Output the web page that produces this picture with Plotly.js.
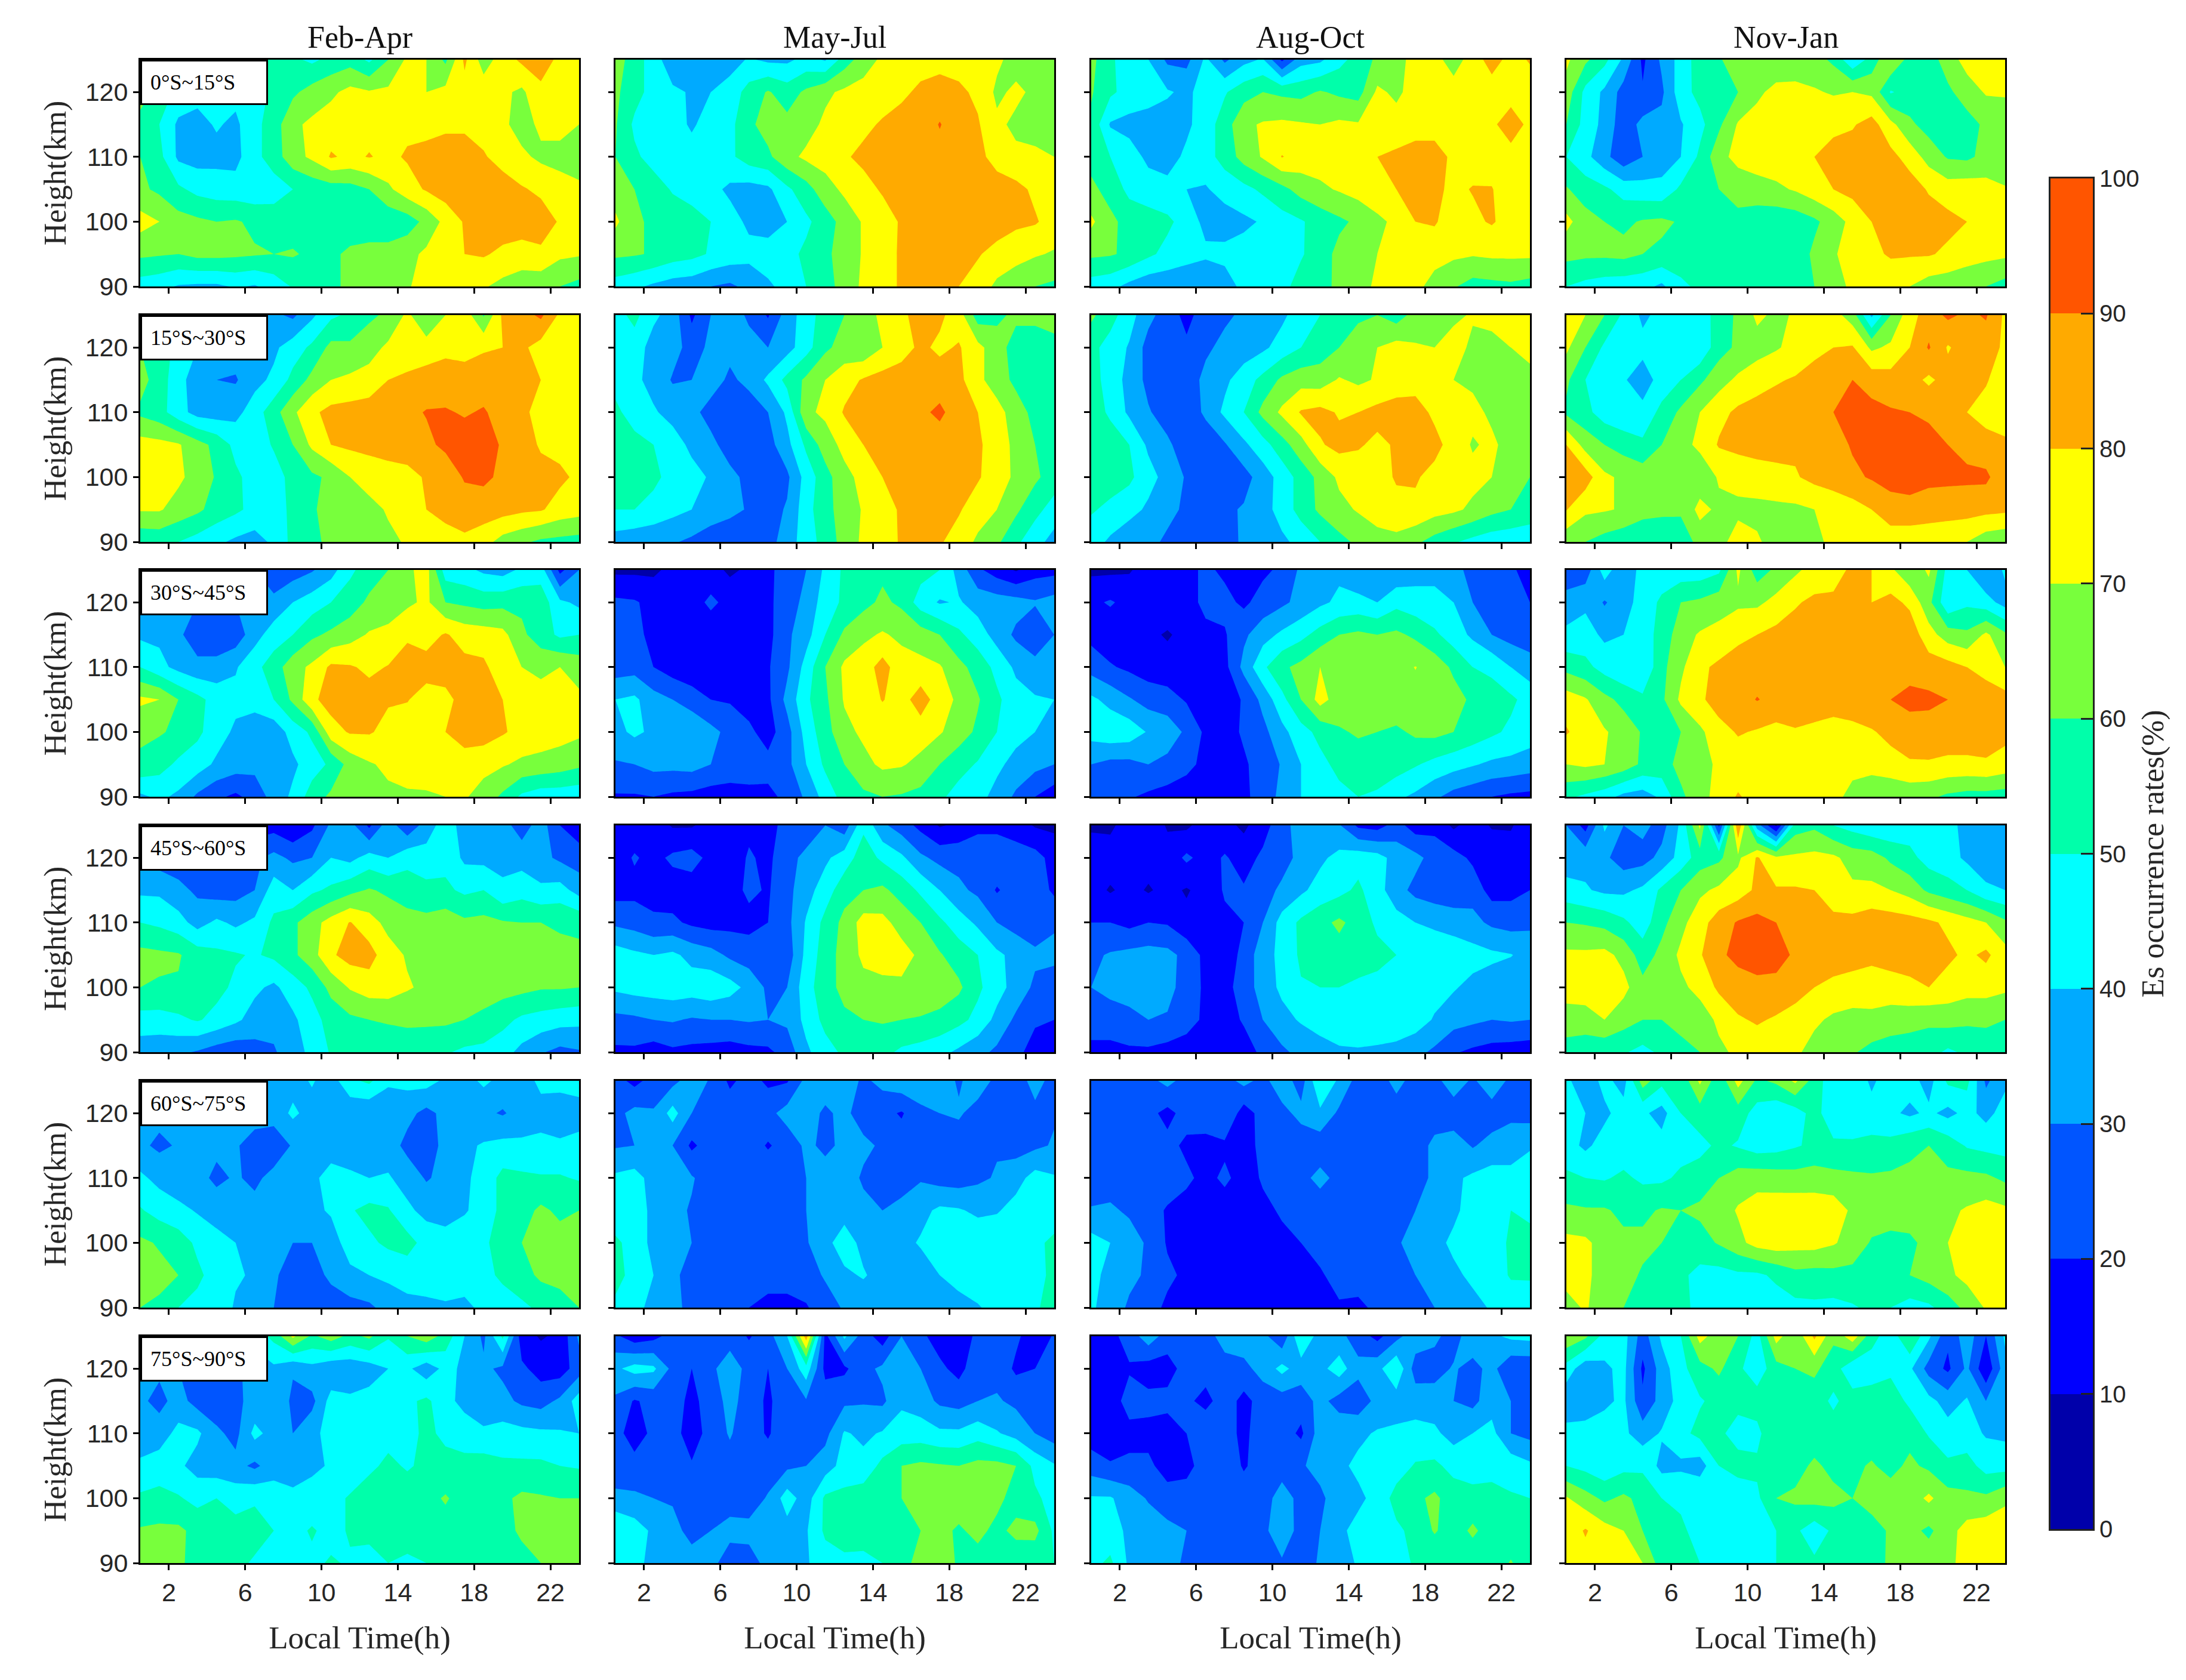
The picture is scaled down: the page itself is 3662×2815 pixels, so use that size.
<!DOCTYPE html>
<html>
<head>
<meta charset="utf-8">
<script src="https://cdn.plot.ly/plotly-3.0.1.min.js"></script>
<style>html,body{margin:0;padding:0;background:#fff}</style>
</head>
<body>
<div id="chart" style="width:3662px;height:2815px"></div>
<script>
const hours=[0.5,1.5,2.5,3.5,4.5,5.5,6.5,7.5,8.5,9.5,10.5,11.5,12.5,13.5,14.5,15.5,16.5,17.5,18.5,19.5,20.5,21.5,22.5,23.5];
const heightsTopDown=[125,120,115,110,105,100,95,90];
const seasons=["Feb-Apr","May-Jul","Aug-Oct","Nov-Jan"];
const latBands=["0°S~15°S","15°S~30°S","30°S~45°S","45°S~60°S","60°S~75°S","75°S~90°S"];
const bandColors=["#0000AA","#0000FF","#0055FF","#00AAFF","#00FFFF","#00FFAA","#78FF3C","#FFFF00","#FFAA00","#FF5500"];
const barLevels=[5,15,25,35,45,55,65,75,85,95];
const xTicks=[2,6,10,14,18,22];
const yTicks=[90,100,110,120];
const barTicks=[0,10,20,30,40,50,60,70,80,90,100];

const feb0=[
[60,52,45,42,42,45,50,54,52,48,53,56,48,60,72,70,58,82,65,75,82,84,78,75],
[65,56,47,43,42,43,46,52,58,64,68,73,71,72,74,70,73,76,76,72,68,78,80,76],
[56,50,38,37,41,38,47,55,68,72,75,76,77,77,78,78,78,78,76,72,66,72,74,70],
[60,53,38,36,37,37,47,55,66,72,81,78,80.5,78,81,82,85,85,81,76,72,68,66,65],
[62,58,52,47,45,44,43,45,50,53,55,56,60,68,76,81,85,87,87,85,81,78,75,72],
[74,70,64,62,60,61,58,56,55,54,54,54,53,53,55,63,73,81,84,85,85,85,79,75],
[62,61,60,63,63,62,61,60,61,58,58,62,64,64,67,72,75,80,81,78,76,78,72,71],
[45,43,39,38,38,41,39,44,51,56,58,62,64,67,69,74,76,74,71,67,64,63,60,57]];
const may0=[
[65,55,45,33,38,37,36,41,38,38,43,39,55,65,72,75,76,76,76,74,72,66,64,63],
[62,54,46,42,39,40,44,54,61,55,62,68,72,74,76,78,82,85,82,78,68,72,68,65],
[61,48,44,43,39,43,47,58,64,63,66,72,74,78,81,84,85,90.5,85,81,72,68,66,65],
[60,52,46,44,43,43,48,55,58,67,72,74,79,82,85,87,87,87,85,83,76,72,72,70],
[65,60,55,49,46,43,38,36,38,48,56,66,72,77,81,85,87,88,88,86,85,83,78,75],
[72,62,58,56,54,50,44,38,34,40,48,55,64,71,76,81,85,87,88,88,86,82,81,76],
[62,61,59,55,53,49,46,43,46,47,52,58,64,71,77,81,84,85,84,81,76,74,71,69],
[45,42,38,35,34,30,28,33,38,44,50,56,64,72,77,81,83,84,80,75,68,63,60,58]];
const aug0=[
[63,52,44,40,28,27,42,28,37,41,18,36,38,47,54,62,68,72,73,66,74,85,76,81],
[61,52,46,44,41,38,44,49,56,60,58,57,61,58,56,72,68,74,76,74,72,74,73,74],
[58,39,37,36,36,38,45,55,68,71,72,71,70,72,71,71,74,76,76,71,74,77,88,76],
[57,50,44,38,36,42,46,54,64,71,80.5,76,75,76,77,80,82,84,84,78,76,75,74,72],
[62,57,47,44,43,40,39,44,47,52,57,64,68,71,74,76,80,84,82,78,80.5,80.5,74,72],
[72,62,57,55,52,46,37,35,38,41,46,49,54,58,62,68,72,80,81,75,78,81,76,74],
[62,61,58,52,47,44,42,43,44,45,46,49,55,63,67,70,74,75,74,72,71,72,72,72],
[45,43,37,33,33,32,30,35,43,45,47,54,57,62,68,71,75,73,66,61,56,57,58,56]];
const nov0=[
[72,62,53,38,18,32,44,55,58,70,65,63,66,64,58,42,54,70,56,55,65,74,80,75],
[66,47,38,26,21,28,46,53,56,60,68,73,72,71,69,70,68,49,54,56,58,65,71,72],
[60,46,37,24,33,33,39,47,58,71,74,71,74,76,78,79,84,73,62,56,54,56,62,60],
[50,43,33,23,30,35,40,52,67,73,75,76,77,80,83,85,86,83,76,66,59,58,63,62],
[61,55,52,46,44,43,52,57,60,64,66,68,71,76,80,83,85,86,85,79,75,76,74,71],
[73,64,60,58,61,62,59,55,55,57,54,53,54,58,65,73,80,82,84,85,83,80,76,74],
[63,62,62,63,60,58,55,58,60,57,53,52,54,62,69,74,78,81,81,81,78,75,73,72],
[50,47,45,44,43,38,48,52,52,53,54,55,57,60,68,71,72,74,70,65,64,62,60,56]];

const feb15=[
[60,50,44,40,35,32,30,32,28,38,48,52,58,62,72,62,70,76,59,82,86,92,78,74],
[60,55,47,40,36,35,36,38,45,52,63,62,66,72,74,74,78,76,79,80,82,76,74,72],
[64,55,44,34,30,29,37,42,53,63,70,72,74,80,82,85,84,85,85,84,84,80,76,74],
[58,54,44,36,35,37,45,56,68,78,83,84,85,86,88,90.5,91,89,91,86,82,77,75,74],
[74,73,71,64,57,47,45,51,60,72,80,82,83,84,85,88,92,95,94,89,84,79,77,75],
[74,73,72,66,59,52,46,46,53,58,62,70,74,76,77,81,84,91,92,88,85,83,82,78],
[71,71,66,62,56,52,47,46,52,59,63,64,67,71,76,80,83,85,85,84,82,81,76,74],
[52,53,50,46,42,38,36,42,53,58,62,64,66,68,71,73,76,78,74,66,62,58,57,56]];
const may15=[
[46,53,42,36,18,30,36,28,19,35,45,55,60,66,72,78,84,82,75,55,58,62,64,64],
[47,45,36,34,26,32,33,34,30,36,46,58,64,62,70,76,82,78,81,73,64,56,52,57],
[47,42,37,29,30,35,28,33,42,53,62,70,76,81,84,85,85,85,83,72,66,57,52,58],
[52,46,41,37,33,26,22,24,30,42,68,72,81,83,85,87,88,92,85,80,73,66,56,52],
[54,53,50,44,38,33,25,20,26,37,52,65,73,80,83,85,85,85,84,82,74,68,60,53],
[53,53,52,47,43,39,33,27,22,28,44,56,67,73,80,83,84,85,84,81,75,68,62,55],
[50,50,47,43,40,36,33,29,26,31,46,57,64,71,77,81,83,83,81,75,70,62,53,46],
[35,33,32,31,28,24,22,22,26,35,45,54,64,72,76,81,84,81,76,68,62,52,44,36]];
const aug15=[
[62,54,44,33,25,17,25,28,32,35,38,45,50,55,58,60,55,64,66,68,71,74,74,74],
[53,46,39,26,24,22,28,33,35,38,44,50,55,60,66,70,74,71,70,74,68,66,70,72],
[55,45,37,27,24,24,33,38,45,53,62,66,65,71,68,71,74,76,78,70,68,65,64,68],
[56,48,38,31,25,20,33,42,50,63,72,81,83,79,80,83,85,84,78,76,73,68,64,60],
[57,56,50,38,32,24,20,29,38,46,56,66,79,83,81,78,81,84,83,76,69,72,66,62],
[56,54,52,44,36,29,22,20,26,35,44,54,63,72,75,76,81,81,77,76,73,70,64,60],
[51,48,44,38,33,28,28,28,31,36,44,54,62,67,71,76,77,78,74,72,68,63,60,56],
[45,38,32,33,28,22,20,25,32,35,38,43,50,57,62,65,67,62,56,51,47,44,43,43]];
const nov15=[
[72,70,60,48,38,43,46,45,54,62,72,68,71,74,74,65,38,60,76,85,92,88,91,78],
[72,60,48,44,43,44,42,42,56,62,66,69,73,78,80,81,68,72,80,91,79,85,85,78],
[62,50,44,41,35,44,50,58,66,72,76,79,81,83,85,90,86,84,84,78,84,84,81,74],
[58,53,45,42,43,53,62,70,77,82,84,85,85,87,90,92,93,91,90,89,84,80,76,74],
[80,66,60,56,52,60,67,72,81,83,85,85,82,85,86,91,93,94,94,92,90,87,84,82],
[88,85,72,68,66,65,63,64,71,73,74,76,79,83,86,88,91,95,95,92,92,92,92,83],
[80.5,72,71,69,64,63,62,73,68,68,68,68,68,70,72,76,80,84,86,86,85,84,83,82],
[63,60,56,53,51,50,53,64,67,74,71,67,67,68,72,74,74,76,74,72,71,70,64,62]];

const feb30=[
[35,35,34,34,33,33,30,22,25,29,36,48,55,60,68,74,45,43,38,36,42,45,17,30],
[37,35,31,30,28,30,35,33,40,45,50,55,62,64,68,72,60,58,56,57,58,56,42,38],
[38,38,32,24,22,24,36,45,50,58,62,66,71,73,79,76,81,76,75,73,62,55,48,50],
[50,43,37,33,34,39,47,55,66,72,82,81,78,80.5,83,84,85,83,82,74,70,67,70,66],
[72,70,60,53,46,43,44,50,62,78,84,84,84,81,80.5,76,77,84,85,80,76,75,74,72],
[62,61,58,52,45,38,34,34,44,52,76,81,81,77,75,77,80,86,85,81,77,75,74,72],
[58,54,48,45,38,35,33,33,38,45,52,64,69,72,73,74,74,74,73,71,68,67,65,62],
[38,42,38,28,22,18,24,34,42,55,62,64,66,68,69,69,70,71,66,58,48,44,44,43]];
const may30=[
[8,8,8,13,15,14,8,12,18,24,30,42,52,56,58,56,54,50,36,22,15,9,16,17],
[22,21,17,15,16,22,17,18,18,25,33,45,52,57,62,58,45,39,41,36,35,34,31,34],
[21,22,18,15,15,14,14,16,17,28,36,50,62,68,71,68,65,60,52,45,36,28,22,30],
[25,26,20,15,13,13,15,17,19,28,44,60,72,75,84,74,73,71,63,56,47,38,34,32],
[40,42,34,30,25,20,19,16,18,33,48,58,71,75,80.5,76,85,75,68,61,52,44,41,40],
[37,42,38,40,39,33,27,22,16,26,44,56,67,72,74,76,75,71,65,58,50,43,40,38],
[29,30,33,33,34,30,28,25,23,27,40,52,60,67,72,71,67,60,54,49,42,37,33,30],
[19,19,20,18,17,15,14,17,18,22,32,44,54,58,60,59,57,52,46,43,37,28,20,14]];
const aug30=[
[8,8,9,15,17,17,22,18,15,18,22,32,36,38,32,34,32,36,38,36,24,28,22,15],
[18,21,17,15,16,17,22,23,18,24,28,33,38,42,43,40,47,44,42,40,30,27,24,20],
[17,14,13,12,9,13,18,19,28,36,42,47,54,60,62,60,62,58,52,45,38,30,26,24],
[26,21,18,15,14,14,15,17,33,48,58,63,70,64,65,66,67,70.3,66,58,50,48,40,35],
[42,37,31,26,24,19,14,15,21,33,47,60,74,65,66,68,68,67,66,64,58,54,52,46],
[44,47,46,39,36,28,18,17,21,27,37,46,53,59,61,60,58,62,63,60,56,52,48,45],
[30,27,27,30,27,22,18,17,19,23,31,40,47,53,56,57,55,51,47,44,41,38,37,35],
[20,20,21,18,16,16,13,15,18,24,33,40,43,47,50,48,42,38,32,26,23,20,18,17]];
const nov30=[
[22,24,45,32,44,44,44,44,48,72,55,62,68,74,76,82,80,72,62,72,46,40,30,42],
[35,38,29,36,44,52,60,62,66,68,68,73,79,82,82,81,80,83,78,63,42,48,44,36],
[42,44,38,40,46,53,66,71,73,78,80,83,84,85,86,86,87,87,86,74,65,62,72,62],
[57,53,46,42,41,57,68,78,82,84,85,86,86,87,87,88,88,88,86,85,84,80,76,70],
[75,71,63,57,52,58,72,78,85,86,90.5,87,87,87,87,88,89,90,93,92,90,87,86,84],
[81,75,71,66,59,55,60,68,76,81,79,77,79,77,74,76,79,83,85,86,85,85,84,83],
[70,72,70,66,58,56,63,66,72,74,75,74,74,71,70,72,73,76,79,79,78,78,79,76],
[52,48,44,37,35,42,58,66,74,81,76,74,73,72,72,68,64,62,63,62,58,56,56,55]];

const feb45=[
[25,22,18,16,15,15,15,16,11,18,32,34,18,36,22,35,45,36,35,34,25,35,20,14],
[26,25,24,22,22,25,28,33,28,30,40,37,44,40,47,44,47,38,37,37,36,33,28,25],
[38,38,33,28,25,26,30,45,40,48,52,57,61,58,55,53,52,48,50,42,46,42,44,36],
[50,48,44,36,42,38,42,52,58,66,74,80.5,74,67,64,63,66,62,63,61,60,60,59,58],
[63,62,61,55,52,51,49,52,58,66,78.5,84,84,74,69,66,64,64,64,63,63,62,62,62],
[60,59,59,60,53,48,42,38,45,52,63,71,75,75,71,68,65,64,64,64,63,61,61,60],
[46,46,48,51,47,42,36,33,38,46,54,58,60,61,62,62,62,60,58,53,48,46,44,43],
[34,33,32,29,25,23,26,29,35,43,51,52,54,54,54,53,51,48,47,44,37,31,27,29]];
const may45=[
[14,14,15,9,9,14,15,18,16,24,23,30,24,48,32,25,17,9,12,17,17,15,9,8],
[15,21,17,22,24,17,15,21,18,26,33,38,45,55,48,42,32,27,27,28,28,25,24,16],
[16,17,16,15,15,16,16,22,19,27,36,45,56,60,62,56,48,40,32,28,19,25,26,18],
[28,26,22,22,18,16,17,17,20,27,41,53,63,74,73,66,60,52,45,38,30,26,24,29],
[45,42,40,42,37,34,28,25,22,24,43,55,64,72,75,74,68,61,55,50,42,37,32,32],
[42,44,45,46,45,47,44,37,28,30,46,56,63,67,67,68,68,66,62,52,44,36,28,26],
[27,28,30,31,29,30,30,31,30,32,43,53,58,60,61,60,59,57,53,47,37,28,21,20],
[18,18,15,18,17,16,15,17,18,24,38,46,52,55,53,48,46,43,38,33,28,22,17,16]];
const aug45=[
[8,8,15,16,9,8,15,13,8,16,26,35,38,31,18,16,24,15,17,8,15,9,9,16],
[17,15,16,14,14,22,16,21,16,22,26,33,38,43,46,44,36,33,26,24,18,17,15,13],
[14,9,13,9,13,9,14,21,21,26,32,38,44,47,52,44,34,27,25,24,26,16,17,20],
[20,20,17,20,19,13,13,18,20,30,44,52,57,62,56,48,44,40,37,35,33,28,26,28],
[28,31,33,34,33,27,17,16,22,37,42,52,56,56,55,53,50,47,50,47,44,42,40.5,36],
[30,33,33,34,33,26,18,17,24,35,42,49,50,50,48,47,44,43,44,41,37,35,33,32],
[25,25,28,30,29,24,18,16,21,30,37,41,44,48,46,47,48,45,39,34,32,30,31,30],
[17,17,18,18,16,15,14,14,16,22,28,33,36,38,39,38,36,33,28,21,18,16,15,14]];
const nov45=[
[30,16,42,30,33,26,42,72,18,88,35,8,55,58,50,46,42,42,45,50,43,37,34,36],
[34,37,32,25,26,33,44,55,58,68,81,72,72,73,72,66,65,58,53,46,44,38,34,32],
[44,41,38,38,42,52,60,68,72,75,82,81,81,80,76,72,72,70,66,58,54,50,42,40],
[60,59,57,52,45,57,67,76,85,91,93,90,85,84,82,83,86,85,84,82,78,74,70,62],
[72,72,73,67,55,63,72,79,88,93,95,95,88,85,84,83,82,83,84,84,82,78,82,74],
[74,75,74,73,63,62,68,73,82,85,87,86,84,80,78,77,76,77,78,80,76,74,74,72],
[66,66,70,64,60,60,62,65,72,79,81,79,76,72,68,66,67,64,64,62,64,62,62,60],
[55,53,52,51,47,52,58,60,68,72,75,74,72,66,64,61,57,56,54,54,48,52,54,52]];

const feb60=[
[38,37,37,37,37,38,42,37,36,41,35,48,52,42,43,44,38,36,42,37,36,42,44,44],
[32,33,33,33,34,34,34,34,42,36,33,32,31,32,33,27,33,33,32,29,34,37,33,36],
[32,28,31,31,32,31,26,24,31,33,34,34,35,35,27,25,33,38,41,43,42,42,42,43],
[42,37,33,33,28,31,28,33,34,37,45,42,40,41,36,29,33,38,44,53,52,51,51,49],
[51,46,43,39,35,30,33,35,36,38,41,49,53,51,42,37,36,39,44,53,56,62,58,60],
[62,59,55,48,44,40,35,33,30,30,36,44,48,52,54,46,44,46,48,55,60,63,64,63],
[65,63,60,52,46,41,39,31,27,26,32,38,40,42,44,44,44,44,47,52,56,62,63,63],
[60,58,50,47,45,39,35,30,28,26,25,26,28,34,37,38,39,38,42,45,48,52,56,60]];
const may60=[
[24,17,24,27,35,29,18,24,18,19,33,36,36,28,33,37,38,34,29,34,28,26,33,27],
[27,33,31,44,30,25,26,27,27,34,35,28,33,24,23,19,27,30,31,27,24,29,28,29],
[29,30,32,30,18,25,27,25,19,24,32,28,32,33,28,25,26,27,26,27,29,26,28,31],
[42,44,36,33,31,25,26,26,27,28,30,34,37,28,24,27,29,26,25,28,31,36,44,41],
[43,44,38,33,29,28,27,26,25,26,30,34,36,34,30,32,37,42,41,38,39,44,48,45],
[52,46,37,34,30,26,26,25,24,24,29,37,45,37,35,37,41,46,47,47,48,49,48,52],
[53,47,40,33,25,25,25,22,24,24,26,31,38,41,36,34,35,40,43,47,47,46,46,53],
[48,42,38,33,27,26,22,20,17,17,19,26,31,33,30,32,34,36,37,39,44,46,49,53]];
const aug60=[
[26,23,24,27,33,26,25,26,33,27,36,25,50,38,26,24,34,25,26,37,28,38,27,24],
[26,24,23,23,17,24,27,30,15,24,27,33,38,28,24,23,24,24,24,23,24,24,27,26],
[24,23,22,22,23,18,16,18,17,22,23,24,24,25,30,24,24,24,33,36,29,34,37,39],
[23,24,25,25,25,22,17,22,16,21,24,27,33,27,26,25,26,28,31,38,42,44,42,45],
[31,32,28,24,19,16,16,15,16,18,21,23,24,25,25,25,27,30,34,38,44,47,50,48],
[44,40,36,28,19,17,16,15,15,16,18,20,23,24,25,25,29,33,37,42,44,47,51,53],
[43,37,33,28,22,18,15,14,14,14,15,16,19,23,24,24,28,30,36,38,42,45,51,51],
[41,37,28,24,18,15,14,14,13,14,14,14,15,19,18,22,24,26,30,33,37,41,44,45]];
const nov60=[
[42,34,43,36,65,53,52,72,52,74,58,62,72,55,44,44,39,43,44,36,52,53,28,38],
[42,40,38,44,42,36,50,55,54,55,46,42,45,54,43,42,42,42,38,42,37,43,37,44],
[44,38,44,44,45,44,46,47,52,49,45,46,49,52,52,52,54,53,58,60,56,49,47,46],
[52,50,49,52,48,48,52,55,60,65,66,65,64,65,63,62,61,62,62,64,62,63,62,58],
[62,61,61,58,58,61,60,62,65,71,75,76,77,76,76,68,65,65,65,66,68,71,74,72],
[73,72,66,62,62,60,55,56,61,67,74,76,74,74,71,66,59,57,58,63,70,75,76,76],
[73,71,68,63,59,53,52,47,46,48,48,52,57,56,57,57,58,58,60,64,68,73,76,76],
[67,71,65,60,55,53,51,49,46,45,44,45,47,48,47,49,52,50,46,48,55,63,71,75]];

const feb75=[
[42,42,42,42,42,43,44,53,72,58,65,57,62,51,60,66,56,40,28,52,14,9,12,32],
[33,32,30,27,26,28,34,38,31,37,32,33,35,40,42,34,43,38,32,28,22,16,15,25],
[32,27,34,26,24,28,33,38,28,27,44,42,44,46,48,52,44,36,33,33,28,26,32,45],
[37,35,43,42,32,27,43,36,30,37,44,44,46,47,47,52,48,47,42,44,43,42,41,40],
[41,45,42,36,34,33,28,35,36,38,41,44,48,52,49,52,53,52,55,52,52,52,50,49],
[52,53,51,47,50,46,49,46,42,44,47,51,55,53,55,57,61,56,55,58,62,61,60,60],
[61,62,62,57,54,54,53,50,47,51,47,51,53,54,55,56,56,56,56,56,62,64,63,63],
[61,61,61,58,56,52,49,46,46,48,51,49,46,50,48,50,52,53,53,54,56,60,61,61]];
const may75=[
[22,14,17,24,24,24,26,19,26,40,85,17,42,25,15,30,22,16,15,22,28,22,14,21],
[38,44,42,27,20,28,35,27,20,30,46,17,18,27,32,34,30,22,17,26,27,18,20,24],
[28,19,23,25,17,25,33,26,18,27,29,26,28,29,28,38,35,28,26,30,31,28,26,25],
[23,16,22,24,15,24,31,24,19,26,29,27,41,38,41,45,45,42,42,46,41,36,30,25],
[23,23,24,25,21,24,26,25,25,28,30,35,44,43,53,60,62,61,60,63,63,60,47,41],
[33,32,30,29,30,28,26,25,31,45,35,52,53,56,58,60,65,68,64,61,62,57,52,46],
[50,45,38,33,27,30,33,33,34,36,39,52,54,55,56,59,60,62,59,62,58,62,63,48],
[44,41,39,38,34,33,25,26,33,37,39,45,48,47,50,58,62,64,59,57,56,55,53,50]];
const aug75=[
[17,17,24,36,25,23,25,35,36,33,22,50,35,33,25,17,27,36,32,26,36,38,42,43],
[19,17,19,15,16,24,24,25,27,34,43,35,37,45,33,37,49,25,26,31,27,33,22,22],
[17,15,24,23,23,22,17,25,17,24,25,25,33,26,24,33,35,36,35,30,27,36,30,27],
[15,14,17,17,15,20,28,25,17,27,25,18,35,37,38,41,42,43,42,36,40,43,30,27],
[25,21,22,22,16,18,23,26,19,24,27,29,33,38,42,43,45,51,52,47,46,48,46,42],
[41,41,35,29,24,23,25,26,25,27,33,28,28,35,38,43,54,58,62,55,53,52,51,50],
[45,44,38,36,33,30,26,27,26,28,35,27,30,38,43,46,48,53,61,55,62,55,52,52],
[47,52,38,34,32,29,28,26,25,25,29,26,31,36,41,44,47,51,52,53,53,53,61,52]];
const nov75=[
[68,62,46,44,25,42,50,74,64,60,46,74,62,82,62,76,54,44,60,42,22,36,20,42],
[46,33,38,43,18,35,47,56,62,52,44,56,60,62,55,42,44,48,42,26,18,32,12,36],
[32,34,38,42,22,34,44,49,53,53,55,54,56,55,48,55,56,55,48,43,36,41,30,37],
[44,44,45,42,35,41,47,53,52,46,47,60,55,54,55,55,55,54,57,49,44,44,39,38],
[50,47,43,47,48,37,38,35,50,54,52,55,56,62,57,58,61,57,62,58,52,54,46,46],
[71,64,58,62,57,50,49,50,46,43,48,60,62,64,63,60,63,65,65,72,64,62,62,68],
[74,81,74,70,60,52,51,48,45,44,44,50,52,44,52,58,57,61,63,58,66,74,76,76],
[72,76,75,73,70,55,52,50,45,46,46,50,54,52,51,52,55,62,64,66,68,73,77,76]];

const panels=[
 [feb0,may0,aug0,nov0],
 [feb15,may15,aug15,nov15],
 [feb30,may30,aug30,nov30],
 [feb45,may45,aug45,nov45],
 [feb60,may60,aug60,nov60],
 [feb75,may75,aug75,nov75]];

const colLeft=[235,1031,1828,2624], colW=735;
const rowTop=[100,528,955,1383,1811,2239], rowH=380;
const W=3662,H=2815;
const bar={l:3435,r:3506,t:299,b:2562};
const colorscale=bandColors.map((c,i)=>[i/(bandColors.length-1),c]);
const sans="Liberation Sans, Arial, sans-serif", serif="Liberation Serif, Times New Roman, serif";
const tickCol="#262626";

const heightsUp=heightsTopDown.slice().reverse();
const data=[], layout={width:W,height:H,margin:{l:0,r:0,t:0,b:0},paper_bgcolor:"#fff",plot_bgcolor:"#fff",showlegend:false,annotations:[]};
let n=0;
panels.forEach((row,r)=>row.forEach((z,c)=>{
  n++;
  const sx=n===1?"":String(n);
  data.push({type:"contour",x:hours,y:heightsUp,z:z.slice().reverse(),xaxis:"x"+sx,yaxis:"y"+sx,
    colorscale,zmin:5,zmax:95,showscale:false,hoverinfo:"skip",
    contours:{start:10,end:90,size:10,coloring:"fill",showlines:false},line:{width:0,smoothing:0}});
  layout["xaxis"+sx]={domain:[colLeft[c]/W,(colLeft[c]+colW)/W],anchor:"y"+sx,range:[0.5,23.5],
    tickmode:"array",tickvals:xTicks,ticktext:xTicks.map(String),ticks:"outside",ticklen:9,tickwidth:2.5,tickcolor:"#000",
    showticklabels:r===5,tickfont:{family:sans,size:43,color:tickCol},showgrid:false,zeroline:false,
    showline:true,mirror:true,linecolor:"#000",linewidth:3,
    title:r===5?{text:"Local Time(h)",font:{family:serif,size:53,color:tickCol},standoff:35}:undefined};
  layout["yaxis"+sx]={domain:[1-(rowTop[r]+rowH)/H,1-rowTop[r]/H],anchor:"x"+sx,range:[90,125],
    tickmode:"array",tickvals:yTicks,ticktext:yTicks.map(String),ticks:"outside",ticklen:9,tickwidth:2.5,tickcolor:"#000",
    showticklabels:c===0,tickfont:{family:sans,size:43,color:tickCol},showgrid:false,zeroline:false,
    showline:true,mirror:true,linecolor:"#000",linewidth:3,
    title:c===0?{text:"Height(km)",font:{family:serif,size:52,color:tickCol},standoff:16}:undefined};
  if(c===0) layout.annotations.push({xref:"x"+sx+" domain",yref:"y"+sx+" domain",x:0,y:1,xanchor:"left",yanchor:"top",
    text:latBands[r],showarrow:false,align:"left",width:180,height:42,borderpad:14,borderwidth:3,bordercolor:"#000",bgcolor:"#fff",
    font:{family:serif,size:36,color:"#000"}});
  if(r===0) layout.annotations.push({xref:"x"+sx+" domain",yref:"paper",x:0.5,y:1-63/H,xanchor:"center",yanchor:"middle",
    text:seasons[c],showarrow:false,font:{family:serif,size:52,color:"#111"}});
}));
n++;
data.push({type:"heatmap",x:[0],y:barLevels,z:barLevels.map(v=>[v]),xaxis:"x"+n,yaxis:"y"+n,colorscale,zmin:5,zmax:95,showscale:false,hoverinfo:"skip"});
layout["xaxis"+n]={domain:[bar.l/W,bar.r/W],anchor:"y"+n,range:[-0.5,0.5],showticklabels:false,ticks:"",showgrid:false,zeroline:false,
  showline:true,mirror:true,linecolor:"#222",linewidth:3};
layout["yaxis"+n]={domain:[1-bar.b/H,1-bar.t/H],anchor:"x"+n,side:"right",range:[0,100],tickmode:"array",tickvals:barTicks,ticktext:barTicks.map(String),
  ticks:"inside",ticklen:20,tickwidth:2.5,tickcolor:"#222",tickfont:{family:sans,size:40,color:tickCol},showgrid:false,zeroline:false,
  showline:true,mirror:true,linecolor:"#222",linewidth:3,
  title:{text:"Es occurrence rates(%)",font:{family:serif,size:52,color:tickCol},standoff:5}};

Plotly.newPlot("chart",data,layout,{displayModeBar:false,responsive:false});
</script>
</body>
</html>
